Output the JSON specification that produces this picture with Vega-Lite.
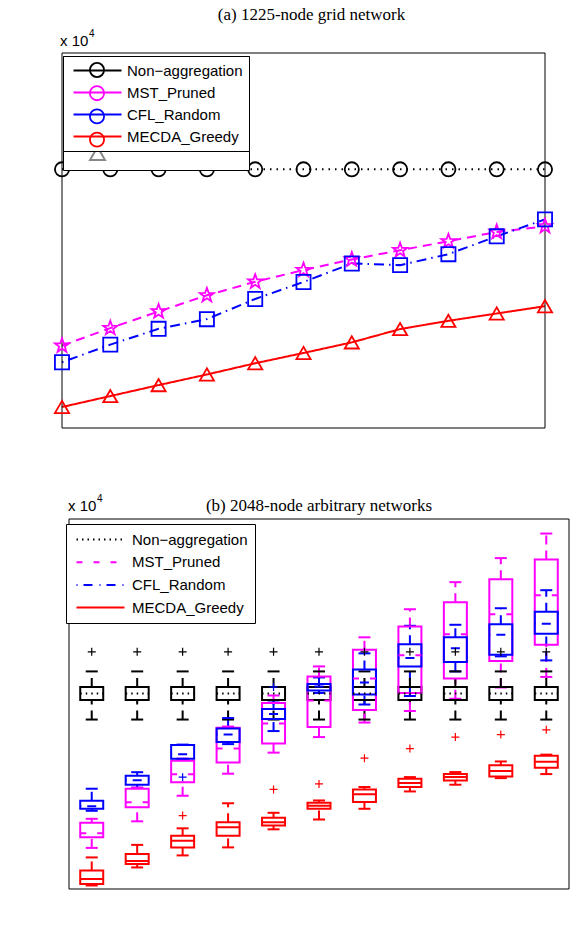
{
  "$schema": "https://vega.github.io/schema/vega-lite/v6.json",
  "width": 575,
  "height": 929,
  "autosize": {"type": "none"},
  "padding": 0,
  "background": "white",
  "config": {
    "view": {"stroke": null},
    "axis": {
      "labelFont": "Liberation Sans", "labelFontSize": 15, "labelColor": "black",
      "titleFont": "Liberation Sans", "titleFontSize": 15, "titleFontWeight": "normal", "titleColor": "black",
      "domain": false, "ticks": false, "labelPadding": 4,
      "gridColor": "black", "gridDash": [1, 4], "gridOpacity": 0.6
    },
    "legend": {"labelFont": "Liberation Sans", "labelFontSize": 15, "labelColor": "black", "cornerRadius": 0}
  },
  "datasets": {
    "lineA": [
      {"k": 100, "series": "Non−aggregation", "energy": 41630},
      {"k": 120, "series": "Non−aggregation", "energy": 41630},
      {"k": 140, "series": "Non−aggregation", "energy": 41630},
      {"k": 160, "series": "Non−aggregation", "energy": 41630},
      {"k": 180, "series": "Non−aggregation", "energy": 41630},
      {"k": 200, "series": "Non−aggregation", "energy": 41630},
      {"k": 220, "series": "Non−aggregation", "energy": 41630},
      {"k": 240, "series": "Non−aggregation", "energy": 41630},
      {"k": 260, "series": "Non−aggregation", "energy": 41630},
      {"k": 280, "series": "Non−aggregation", "energy": 41630},
      {"k": 300, "series": "Non−aggregation", "energy": 41630},
      {"k": 100, "series": "MST_Pruned", "energy": 21360},
      {"k": 120, "series": "MST_Pruned", "energy": 23380},
      {"k": 140, "series": "MST_Pruned", "energy": 25290},
      {"k": 160, "series": "MST_Pruned", "energy": 27150},
      {"k": 180, "series": "MST_Pruned", "energy": 28710},
      {"k": 200, "series": "MST_Pruned", "energy": 30050},
      {"k": 220, "series": "MST_Pruned", "energy": 31270},
      {"k": 240, "series": "MST_Pruned", "energy": 32330},
      {"k": 260, "series": "MST_Pruned", "energy": 33360},
      {"k": 280, "series": "MST_Pruned", "energy": 34430},
      {"k": 300, "series": "MST_Pruned", "energy": 35080},
      {"k": 100, "series": "CFL_Random", "energy": 19460},
      {"k": 120, "series": "CFL_Random", "energy": 21480},
      {"k": 140, "series": "CFL_Random", "energy": 23300},
      {"k": 160, "series": "CFL_Random", "energy": 24410},
      {"k": 180, "series": "CFL_Random", "energy": 26730},
      {"k": 200, "series": "CFL_Random", "energy": 28680},
      {"k": 220, "series": "CFL_Random", "energy": 30810},
      {"k": 240, "series": "CFL_Random", "energy": 30620},
      {"k": 260, "series": "CFL_Random", "energy": 31880},
      {"k": 280, "series": "CFL_Random", "energy": 33930},
      {"k": 300, "series": "CFL_Random", "energy": 35880},
      {"k": 100, "series": "MECDA_Greedy", "energy": 14310},
      {"k": 120, "series": "MECDA_Greedy", "energy": 15570},
      {"k": 140, "series": "MECDA_Greedy", "energy": 16830},
      {"k": 160, "series": "MECDA_Greedy", "energy": 18050},
      {"k": 180, "series": "MECDA_Greedy", "energy": 19340},
      {"k": 200, "series": "MECDA_Greedy", "energy": 20520},
      {"k": 220, "series": "MECDA_Greedy", "energy": 21740},
      {"k": 240, "series": "MECDA_Greedy", "energy": 23270},
      {"k": 260, "series": "MECDA_Greedy", "energy": 24220},
      {"k": 280, "series": "MECDA_Greedy", "energy": 25060},
      {"k": 300, "series": "MECDA_Greedy", "energy": 25900}
    ],
    "boxB": [
      {"k": 100, "series": "Non−aggregation", "lo": 36900, "q1": 38850, "med": 39500, "q3": 40150, "hi": 41700},
      {"k": 120, "series": "Non−aggregation", "lo": 36900, "q1": 38850, "med": 39500, "q3": 40150, "hi": 41700},
      {"k": 140, "series": "Non−aggregation", "lo": 36900, "q1": 38850, "med": 39500, "q3": 40150, "hi": 41700},
      {"k": 160, "series": "Non−aggregation", "lo": 36900, "q1": 38850, "med": 39500, "q3": 40150, "hi": 41700},
      {"k": 180, "series": "Non−aggregation", "lo": 36900, "q1": 38850, "med": 39500, "q3": 40150, "hi": 41700},
      {"k": 200, "series": "Non−aggregation", "lo": 36900, "q1": 38850, "med": 39500, "q3": 40150, "hi": 41700},
      {"k": 220, "series": "Non−aggregation", "lo": 36900, "q1": 38850, "med": 39500, "q3": 40150, "hi": 41700},
      {"k": 240, "series": "Non−aggregation", "lo": 36900, "q1": 38850, "med": 39500, "q3": 40150, "hi": 41700},
      {"k": 260, "series": "Non−aggregation", "lo": 36900, "q1": 38850, "med": 39500, "q3": 40150, "hi": 41700},
      {"k": 280, "series": "Non−aggregation", "lo": 36900, "q1": 38850, "med": 39500, "q3": 40150, "hi": 41700},
      {"k": 300, "series": "Non−aggregation", "lo": 36900, "q1": 38850, "med": 39500, "q3": 40150, "hi": 41700},
      {"k": 100, "series": "MST_Pruned", "lo": 24100, "q1": 25150, "med": 25550, "q3": 26600, "hi": 27000},
      {"k": 120, "series": "MST_Pruned", "lo": 26750, "q1": 28150, "med": 28650, "q3": 30000, "hi": 30100},
      {"k": 140, "series": "MST_Pruned", "lo": 29300, "q1": 30650, "med": 31450, "q3": 32800, "hi": 33000},
      {"k": 160, "series": "MST_Pruned", "lo": 31500, "q1": 32620, "med": 34000, "q3": 36080, "hi": 36200},
      {"k": 180, "series": "MST_Pruned", "lo": 33600, "q1": 34500, "med": 36500, "q3": 38550, "hi": 39300},
      {"k": 200, "series": "MST_Pruned", "lo": 35150, "q1": 36150, "med": 38800, "q3": 41200, "hi": 42200},
      {"k": 220, "series": "MST_Pruned", "lo": 36600, "q1": 37850, "med": 41000, "q3": 43850, "hi": 45100},
      {"k": 240, "series": "MST_Pruned", "lo": 37750, "q1": 39550, "med": 43300, "q3": 46180, "hi": 47900},
      {"k": 260, "series": "MST_Pruned", "lo": 38970, "q1": 41000, "med": 45400, "q3": 48600, "hi": 50600},
      {"k": 280, "series": "MST_Pruned", "lo": 40100, "q1": 42750, "med": 47400, "q3": 50900, "hi": 53000},
      {"k": 300, "series": "MST_Pruned", "lo": 41150, "q1": 44350, "med": 49300, "q3": 52850, "hi": 55450},
      {"k": 100, "series": "CFL_Random", "lo": 27800, "q1": 28000, "med": 28250, "q3": 28800, "hi": 30000},
      {"k": 120, "series": "CFL_Random", "lo": 30100, "q1": 30400, "med": 30850, "q3": 31300, "hi": 31650},
      {"k": 140, "series": "CFL_Random", "lo": 32950, "q1": 33000, "med": 33450, "q3": 34350, "hi": 34400},
      {"k": 160, "series": "CFL_Random", "lo": 34450, "q1": 34650, "med": 35400, "q3": 36000, "hi": 37050},
      {"k": 180, "series": "CFL_Random", "lo": 35750, "q1": 36950, "med": 37450, "q3": 37950, "hi": 38800},
      {"k": 200, "series": "CFL_Random", "lo": 39550, "q1": 39800, "med": 40200, "q3": 40450, "hi": 41100},
      {"k": 220, "series": "CFL_Random", "lo": 38400, "q1": 39400, "med": 40600, "q3": 41900, "hi": 43500},
      {"k": 240, "series": "CFL_Random", "lo": 39250, "q1": 42200, "med": 43050, "q3": 44400, "hi": 46250},
      {"k": 260, "series": "CFL_Random", "lo": 41700, "q1": 42650, "med": 44000, "q3": 45100, "hi": 46350},
      {"k": 280, "series": "CFL_Random", "lo": 43200, "q1": 43350, "med": 45350, "q3": 46400, "hi": 48000},
      {"k": 300, "series": "CFL_Random", "lo": 42800, "q1": 45450, "med": 46450, "q3": 47650, "hi": 49800},
      {"k": 100, "series": "MECDA_Greedy", "lo": 20350, "q1": 20500, "med": 21000, "q3": 21850, "hi": 23150},
      {"k": 120, "series": "MECDA_Greedy", "lo": 22150, "q1": 22500, "med": 22800, "q3": 23500, "hi": 24400},
      {"k": 140, "series": "MECDA_Greedy", "lo": 23350, "q1": 24150, "med": 24800, "q3": 25300, "hi": 26050},
      {"k": 160, "series": "MECDA_Greedy", "lo": 24150, "q1": 25320, "med": 26150, "q3": 26650, "hi": 28550},
      {"k": 180, "series": "MECDA_Greedy", "lo": 25950, "q1": 26330, "med": 26650, "q3": 27100, "hi": 27600},
      {"k": 200, "series": "MECDA_Greedy", "lo": 26930, "q1": 28000, "med": 28300, "q3": 28600, "hi": 28830},
      {"k": 220, "series": "MECDA_Greedy", "lo": 28000, "q1": 28680, "med": 29450, "q3": 29930, "hi": 30170},
      {"k": 240, "series": "MECDA_Greedy", "lo": 29730, "q1": 30170, "med": 30560, "q3": 31000, "hi": 31160},
      {"k": 260, "series": "MECDA_Greedy", "lo": 30400, "q1": 30830, "med": 31160, "q3": 31460, "hi": 31660},
      {"k": 280, "series": "MECDA_Greedy", "lo": 31060, "q1": 31230, "med": 31760, "q3": 32330, "hi": 32720},
      {"k": 300, "series": "MECDA_Greedy", "lo": 31460, "q1": 32100, "med": 32680, "q3": 33300, "hi": 33400}
    ],
    "outB": [
      {"k": 100, "series": "Non−aggregation", "value": 43650},
      {"k": 120, "series": "Non−aggregation", "value": 43650},
      {"k": 140, "series": "Non−aggregation", "value": 43650},
      {"k": 160, "series": "Non−aggregation", "value": 43650},
      {"k": 180, "series": "Non−aggregation", "value": 43650},
      {"k": 200, "series": "Non−aggregation", "value": 43650},
      {"k": 220, "series": "Non−aggregation", "value": 43650},
      {"k": 240, "series": "Non−aggregation", "value": 43650},
      {"k": 260, "series": "Non−aggregation", "value": 43650},
      {"k": 280, "series": "Non−aggregation", "value": 43650},
      {"k": 300, "series": "Non−aggregation", "value": 43650},
      {"k": 140, "series": "CFL_Random", "value": 31150},
      {"k": 180, "series": "CFL_Random", "value": 40150},
      {"k": 140, "series": "MECDA_Greedy", "value": 27320},
      {"k": 180, "series": "MECDA_Greedy", "value": 29930},
      {"k": 200, "series": "MECDA_Greedy", "value": 30480},
      {"k": 220, "series": "MECDA_Greedy", "value": 33050},
      {"k": 240, "series": "MECDA_Greedy", "value": 34000},
      {"k": 260, "series": "MECDA_Greedy", "value": 35150},
      {"k": 280, "series": "MECDA_Greedy", "value": 35400},
      {"k": 300, "series": "MECDA_Greedy", "value": 35870}
    ]
  },
  "resolve": {
    "scale": {"x": "independent", "y": "independent", "color": "independent", "strokeDash": "independent", "shape": "independent"},
    "axis": {"x": "independent", "y": "independent"},
    "legend": {"color": "independent", "strokeDash": "independent", "shape": "independent"}
  },
  "layer": [
    {
      "resolve": {"scale": {"color": "independent"}, "legend": {"color": "independent"}},
      "layer": [
        {
          "data": {"name": "lineA"},
          "mark": {"type": "line", "strokeWidth": 2},
          "encoding": {
            "x": {"field": "k", "type": "quantitative", "scale": {"domain": [100, 300], "range": [62, 545], "nice": false, "zero": false},
                  "axis": {"orient": "bottom", "offset": -501, "values": [100, 120, 140, 160, 180, 200, 220, 240, 260, 280, 300], "grid": true, "title": "k", "titleFontStyle": "italic", "titlePadding": 3}},
            "y": {"field": "energy", "type": "quantitative", "scale": {"domain": [11900, 55000], "range": [428, 53], "nice": false, "zero": false},
                  "axis": {"orient": "left", "offset": -62, "values": [15000, 20000, 25000, 30000, 35000, 40000, 45000, 50000, 55000], "grid": true, "labelExpr": "format(datum.value / 10000, '~g')", "title": "Energy Consumption", "titlePadding": 9}},
            "color": {"field": "series", "type": "nominal",
                      "scale": {"domain": ["Non−aggregation", "MST_Pruned", "CFL_Random", "MECDA_Greedy"], "range": ["#000000", "#ff00ff", "#0000ff", "#ff0000"]},
                      "legend": {"title": null, "orient": "none", "legendX": 63, "legendY": 56, "symbolType": "M-3.2,0H3.2", "symbolSize": 225, "symbolStrokeWidth": 2, "symbolOffset": 20, "labelOffset": 21, "padding": 6, "rowPadding": 5, "strokeColor": "black", "fillColor": "white"}},
            "strokeDash": {"field": "series", "type": "nominal",
                      "scale": {"domain": ["Non−aggregation", "MST_Pruned", "CFL_Random", "MECDA_Greedy"], "range": [[1.5, 5], [9, 6], [1.5, 5, 10, 5], [1, 0]]},
                      "legend": {"title": null, "orient": "none", "legendX": 63, "legendY": 56, "symbolType": "M-3.2,0H3.2", "symbolSize": 225, "symbolStrokeWidth": 2, "symbolOffset": 20, "labelOffset": 21, "padding": 6, "rowPadding": 5, "strokeColor": "black", "fillColor": "white"}}
          }
        },
        {
          "data": {"values": [{}]},
          "mark": {"type": "rect", "filled": false, "stroke": "black", "strokeWidth": 1},
          "encoding": {
            "x": {"datum": 100, "type": "quantitative"},
            "x2": {"datum": 300},
            "y": {"datum": 11900, "type": "quantitative"},
            "y2": {"datum": 55000}
          }
        },
        {
          "data": {"name": "lineA"},
          "mark": {"type": "point", "filled": false, "strokeWidth": 1.8, "opacity": 1, "size": 200},
          "encoding": {
            "x": {"field": "k", "type": "quantitative", "axis": null},
            "y": {"field": "energy", "type": "quantitative", "axis": null},
            "color": {"field": "series", "type": "nominal",
                      "scale": {"domain": ["Non−aggregation", "MST_Pruned", "CFL_Random", "MECDA_Greedy"], "range": ["#000000", "#ff00ff", "#0000ff", "#ff0000"]},
                      "legend": {"title": null, "orient": "none", "legendX": 63, "legendY": 56, "symbolOffset": 20, "labelOffset": 21, "padding": 6, "rowPadding": 1.2, "labelOpacity": 0, "symbolStrokeWidth": 1.8, "symbolSize": 200}},
            "shape": {"field": "series", "type": "nominal",
                      "scale": {"domain": ["Non−aggregation", "MST_Pruned", "CFL_Random", "MECDA_Greedy"], "range": ["circle", "M0,-1.05L0.25,-0.34L0.998,-0.324L0.404,0.131L0.617,0.85L0,0.425L-0.617,0.85L-0.404,0.131L-0.998,-0.324L-0.25,-0.34Z", "square", "triangle-up"]},
                      "legend": {"title": null, "orient": "none", "legendX": 63, "legendY": 56, "symbolOffset": 20, "labelOffset": 21, "padding": 6, "rowPadding": 1.2, "labelOpacity": 0, "symbolStrokeWidth": 1.8, "symbolSize": 200}}
          }
        },
        {
          "data": {"values": [{}]},
          "mark": {"type": "text", "text": "(a) 1225-node grid network", "font": "Liberation Serif", "fontSize": 17, "align": "center", "baseline": "middle", "dx": 8, "dy": -38, "color": "black"},
          "encoding": {
            "x": {"datum": 200, "type": "quantitative", "axis": null},
            "y": {"datum": 55000, "type": "quantitative", "axis": null}
          }
        },
        {
          "data": {"values": [{}]},
          "mark": {"type": "text", "text": "x 10", "font": "Liberation Sans", "fontSize": 15, "align": "left", "baseline": "middle", "dx": -2, "dy": -12, "color": "black"},
          "encoding": {
            "x": {"datum": 100, "type": "quantitative", "axis": null},
            "y": {"datum": 55000, "type": "quantitative", "axis": null}
          }
        },
        {
          "data": {"values": [{}]},
          "mark": {"type": "text", "text": "4", "font": "Liberation Sans", "fontSize": 10, "align": "left", "baseline": "middle", "dx": 27, "dy": -19, "color": "black"},
          "encoding": {
            "x": {"datum": 100, "type": "quantitative", "axis": null},
            "y": {"datum": 55000, "type": "quantitative", "axis": null}
          }
        }
      ]
    },
    {
      "layer": [
        {
          "data": {"name": "boxB"},
          "mark": {"type": "rule", "strokeWidth": 2, "strokeDash": [9, 6]},
          "encoding": {
            "x": {"field": "k", "type": "quantitative", "scale": {"domain": [90, 310], "range": [64, 574], "nice": false, "zero": false},
                  "axis": {"orient": "bottom", "offset": -40, "values": [100, 120, 140, 160, 180, 200, 220, 240, 260, 280, 300], "grid": true, "title": "k", "titleFontStyle": "italic", "titlePadding": 1}},
            "y": {"field": "lo", "type": "quantitative", "scale": {"domain": [20000, 56900], "range": [889, 519], "nice": false, "zero": false},
                  "axis": {"orient": "left", "offset": -64, "values": [20000, 25000, 30000, 35000, 40000, 45000, 50000, 55000], "grid": true, "labelExpr": "format(datum.value / 10000, '~g')", "title": "Energy Consumption", "titlePadding": 9}},
            "y2": {"field": "q1"},
            "color": {"field": "series", "type": "nominal",
                      "scale": {"domain": ["Non−aggregation", "MST_Pruned", "CFL_Random", "MECDA_Greedy"], "range": ["#000000", "#ff00ff", "#0000ff", "#ff0000"]}}
          }
        },
        {
          "data": {"values": [{}]},
          "mark": {"type": "rect", "filled": false, "stroke": "black", "strokeWidth": 1},
          "encoding": {
            "x": {"datum": 90, "type": "quantitative"},
            "x2": {"datum": 310},
            "y": {"datum": 20000, "type": "quantitative"},
            "y2": {"datum": 56900}
          }
        },
        {
          "data": {"name": "boxB"},
          "mark": {"type": "rule", "strokeWidth": 2, "strokeDash": [9, 6]},
          "encoding": {
            "x": {"field": "k", "type": "quantitative", "axis": null},
            "y": {"field": "q3", "type": "quantitative", "axis": null},
            "y2": {"field": "hi"},
            "color": {"field": "series", "type": "nominal"}
          }
        },
        {
          "data": {"name": "boxB"},
          "mark": {"type": "point", "shape": "M-1,0H1", "size": 144, "filled": false, "strokeWidth": 2, "opacity": 1},
          "encoding": {
            "x": {"field": "k", "type": "quantitative", "axis": null},
            "y": {"field": "lo", "type": "quantitative", "axis": null},
            "color": {"field": "series", "type": "nominal"}
          }
        },
        {
          "data": {"name": "boxB"},
          "mark": {"type": "point", "shape": "M-1,0H1", "size": 144, "filled": false, "strokeWidth": 2, "opacity": 1},
          "encoding": {
            "x": {"field": "k", "type": "quantitative", "axis": null},
            "y": {"field": "hi", "type": "quantitative", "axis": null},
            "color": {"field": "series", "type": "nominal"}
          }
        },
        {
          "data": {"name": "boxB"},
          "mark": {"type": "bar", "size": 23, "filled": false, "strokeWidth": 2},
          "encoding": {
            "x": {"field": "k", "type": "quantitative", "axis": null},
            "y": {"field": "q1", "type": "quantitative", "axis": null},
            "y2": {"field": "q3"},
            "color": {"field": "series", "type": "nominal"}
          }
        },
        {
          "data": {"name": "boxB"},
          "mark": {"type": "point", "shape": "M-1,0H1", "size": 529, "filled": false, "strokeWidth": 2, "opacity": 1},
          "encoding": {
            "x": {"field": "k", "type": "quantitative", "axis": null},
            "y": {"field": "med", "type": "quantitative", "axis": null},
            "color": {"field": "series", "type": "nominal",
                      "legend": {"title": null, "orient": "none", "legendX": 66, "legendY": 524, "symbolType": "M-3.2,0H3.2", "symbolSize": 225, "symbolStrokeWidth": 2, "symbolOffset": 19, "labelOffset": 23, "padding": 7, "rowPadding": 5.7, "strokeColor": "black", "fillColor": "white"}},
            "strokeDash": {"field": "series", "type": "nominal",
                      "scale": {"domain": ["Non−aggregation", "MST_Pruned", "CFL_Random", "MECDA_Greedy"], "range": [[1.5, 4], [6, 11], [1, 6, 9, 7], [1, 0]]},
                      "legend": {"title": null, "orient": "none", "legendX": 66, "legendY": 524, "symbolType": "M-3.2,0H3.2", "symbolSize": 225, "symbolStrokeWidth": 2, "symbolOffset": 19, "labelOffset": 23, "padding": 7, "rowPadding": 5.7, "strokeColor": "black", "fillColor": "white"}}
          }
        },
        {
          "data": {"name": "outB"},
          "mark": {"type": "point", "shape": "M-1,0H1M0,-1V1", "size": 64, "filled": false, "strokeWidth": 1.2, "opacity": 1},
          "encoding": {
            "x": {"field": "k", "type": "quantitative", "axis": null},
            "y": {"field": "value", "type": "quantitative", "axis": null},
            "color": {"field": "series", "type": "nominal"}
          }
        },
        {
          "data": {"values": [{}]},
          "mark": {"type": "text", "text": "(b) 2048-node arbitrary networks", "font": "Liberation Serif", "fontSize": 17, "align": "center", "baseline": "middle", "dy": -13, "color": "black"},
          "encoding": {
            "x": {"datum": 200, "type": "quantitative", "axis": null},
            "y": {"datum": 56900, "type": "quantitative", "axis": null}
          }
        },
        {
          "data": {"values": [{}]},
          "mark": {"type": "text", "text": "x 10", "font": "Liberation Sans", "fontSize": 15, "align": "left", "baseline": "middle", "dx": -1, "dy": -13, "color": "black"},
          "encoding": {
            "x": {"datum": 90, "type": "quantitative", "axis": null},
            "y": {"datum": 56900, "type": "quantitative", "axis": null}
          }
        },
        {
          "data": {"values": [{}]},
          "mark": {"type": "text", "text": "4", "font": "Liberation Sans", "fontSize": 10, "align": "left", "baseline": "middle", "dx": 28, "dy": -20, "color": "black"},
          "encoding": {
            "x": {"datum": 90, "type": "quantitative", "axis": null},
            "y": {"datum": 56900, "type": "quantitative", "axis": null}
          }
        }
      ]
    }
  ]
}
